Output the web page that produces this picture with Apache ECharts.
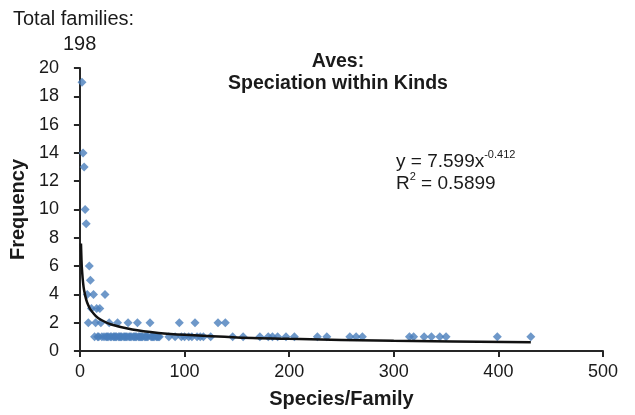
<!DOCTYPE html>
<html><head><meta charset="utf-8">
<script src="https://cdn.jsdelivr.net/npm/echarts@6/dist/echarts.min.js"></script>
<style>html,body{margin:0;padding:0;background:#fff}#c{width:635px;height:415px}</style>
</head><body><div id="c"></div>
<script>
// Species per family (x) and frequency (number of families) (y)
const highX = [2, 3, 4, 5, 6, 9, 10];
const highY = [19, 14, 13, 10, 9, 6, 5];
const fourX = [7, 13, 24];
const threeX = [11, 16, 19];
const twoX = [8, 15, 20, 28, 36, 46, 55, 67, 95, 110, 132, 139];
const oneX = [14, 17, 18, 21, 23, 25, 26, 27, 29, 30, 32, 33, 34, 35, 37, 38, 39, 40, 42, 43, 44, 45,
  47, 48, 49, 51, 52, 53, 54, 56, 57, 58, 59, 60, 62, 63, 64, 65, 68, 69, 70, 71, 73, 74, 75, 76,
  85, 91, 97, 100, 104, 107, 112, 115, 118, 125, 146, 156, 172,
  180, 184, 189, 197, 205, 227, 236, 258, 264, 270,
  315, 319, 329, 336, 344, 350, 399, 431];
// power trendline points
const trendX = [1, 1.5, 2, 3, 4, 6, 8, 10, 15, 20, 30, 50, 75, 100, 150, 200, 300, 431];
const trendY = [7.60, 6.43, 5.71, 4.83, 4.29, 3.63, 3.23, 2.94, 2.49, 2.21, 1.87, 1.52, 1.28, 1.14, 0.96, 0.86, 0.72, 0.62];
const xTicks = [0, 100, 200, 300, 400, 500];
const yTicks = [0, 2, 4, 6, 8, 10, 12, 14, 16, 18, 20];

const pts = [];
highX.forEach((x, i) => pts.push([x, highY[i]]));
fourX.forEach(x => pts.push([x, 4]));
threeX.forEach(x => pts.push([x, 3]));
twoX.forEach(x => pts.push([x, 2]));
oneX.forEach(x => pts.push([x, 1]));
const trend = trendX.map((x, i) => [x, trendY[i]]);

const F = 'Liberation Sans, Arial, sans-serif';
const TXT = '#1a1a1a';
const chart = echarts.init(document.getElementById('c'), null, {renderer: 'canvas'});
chart.setOption({
  animation: false,
  backgroundColor: '#fff',
  textStyle: {fontFamily: F},
  title: [
    {text: 'Aves:\nSpeciation within Kinds', left: 333, top: 46, textAlign: 'center',
     textStyle: {fontFamily: F, fontSize: 19.5, fontWeight: 'bold', color: TXT, lineHeight: 22}},
    {text: 'Total families:', left: 8, top: 3,
     textStyle: {fontFamily: F, fontSize: 20, fontWeight: 'normal', color: TXT, lineHeight: 22}},
    {text: '198', left: 58, top: 28,
     textStyle: {fontFamily: F, fontSize: 20, fontWeight: 'normal', color: TXT, lineHeight: 22}},
    {text: '{a|y = 7.599x}{s|-0.412}\n{a|R}{s|2}{a| = 0.5899}', left: 391, top: 144,
     textStyle: {fontWeight: 'normal', rich: {
       a: {fontFamily: F, fontSize: 19, fontWeight: 'normal', color: TXT, lineHeight: 22, verticalAlign: 'bottom'},
       s: {fontFamily: F, fontSize: 11, fontWeight: 'normal', color: TXT, lineHeight: 22, verticalAlign: 'top', padding: [0, 0, 9, 0]}
     }}}
  ],
  grid: {left: 77, right: 32, top: 68, bottom: 64, containLabel: false},
  xAxis: {
    type: 'value', min: xTicks[0], max: xTicks[xTicks.length - 1], interval: 100,
    name: 'Species/Family', nameLocation: 'middle', nameGap: 38,
    nameTextStyle: {fontFamily: F, fontSize: 20, fontWeight: 'bold', color: TXT},
    axisLine: {onZero: false, lineStyle: {color: '#262626', width: 2}},
    axisTick: {show: true, length: 6, lineStyle: {color: '#262626', width: 2}},
    axisLabel: {fontFamily: F, fontSize: 18, color: TXT, margin: 12},
    splitLine: {show: false}
  },
  yAxis: {
    type: 'value', min: yTicks[0], max: yTicks[yTicks.length - 1], interval: 2,
    name: 'Frequency', nameLocation: 'middle', nameGap: 44,
    nameTextStyle: {fontFamily: F, fontSize: 20, fontWeight: 'bold', color: TXT},
    axisLine: {show: true, lineStyle: {color: '#262626', width: 2}},
    axisTick: {show: true, length: 6, lineStyle: {color: '#262626', width: 2}},
    axisLabel: {fontFamily: F, fontSize: 18, color: TXT, margin: 21},
    splitLine: {show: false}
  },
  series: [
    {type: 'scatter', data: pts, symbol: 'diamond', symbolSize: 9,
     itemStyle: {color: '#4a7ebb'}, z: 3},
    {type: 'line', data: trend, smooth: 0.3, showSymbol: false, symbol: 'none',
     lineStyle: {color: '#111', width: 2.5}, z: 4}
  ]
});
</script></body></html>
